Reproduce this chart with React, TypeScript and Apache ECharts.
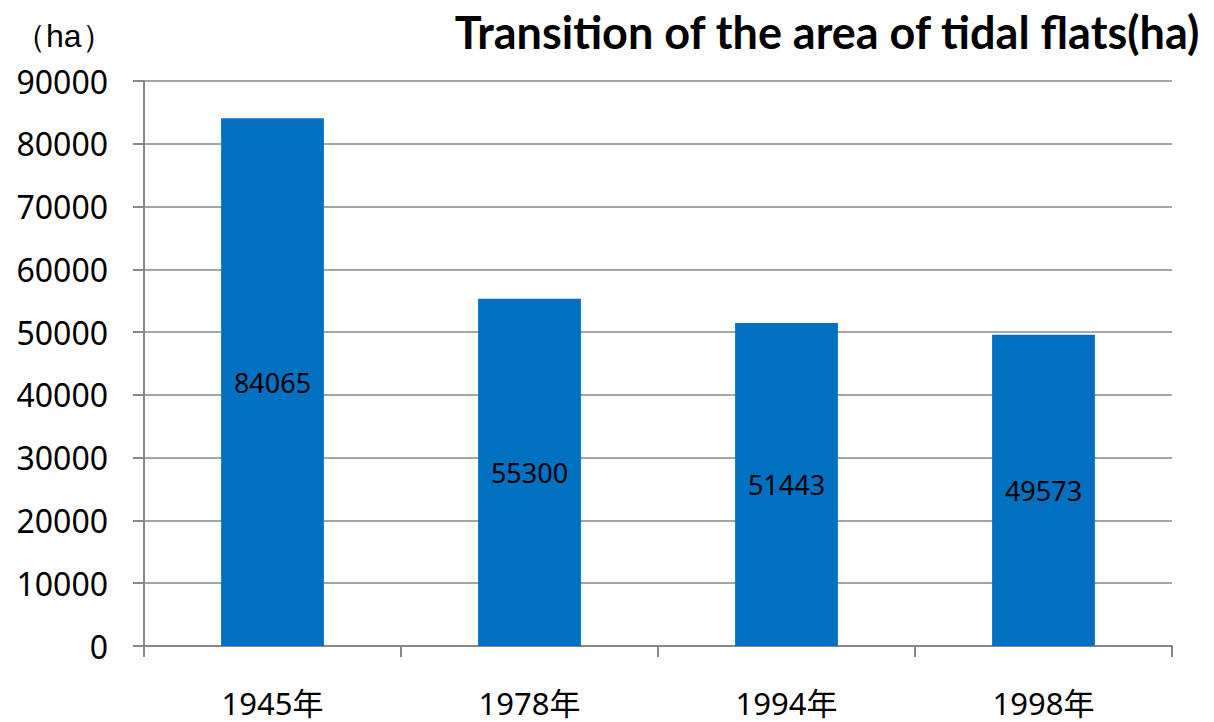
import React, { useEffect, useRef } from "react";
import * as echarts from "echarts";

const categories = ["1945年", "1978年", "1994年", "1998年"];
const values = [84065, 55300, 51443, 49573];
const yTicks = { min: 0, max: 90000, interval: 10000 };
const titleText = "Transition of the area of tidal flats(ha)";
const unitText = "（ha）";

const FONT = "'Noto Sans', 'Noto Sans CJK JP', sans-serif";

export default function App() {
  const ref = useRef<HTMLDivElement>(null);
  useEffect(() => {
    if (!ref.current) return;
    const chart = echarts.init(ref.current, undefined, { renderer: "svg" });
    chart.setOption({
      animation: false,
      backgroundColor: "#ffffff",
      title: {
        text: titleText,
        right: 8,
        top: 4,
        textStyle: {
          fontFamily: "Lato, 'Noto Sans', sans-serif",
          fontWeight: "bold",
          fontSize: 45,
          color: "#000",
        },
      },
      graphic: [
        {
          type: "text",
          left: 14,
          top: 20,
          style: {
            text: unitText,
            font: "32px 'Noto Sans CJK JP', sans-serif",
            fontSize: 32,
            fill: "#000",
          },
        },
      ],
      grid: { left: 144, right: 42, top: 81, bottom: 76, containLabel: false },
      xAxis: {
        type: "category",
        data: categories,
        axisLine: { show: true, lineStyle: { color: "#888888", width: 2 } },
        axisTick: { show: true, length: 11, lineStyle: { color: "#888888", width: 2 } },
        axisLabel: {
          margin: 41,
          fontFamily: FONT,
          fontSize: 31,
          color: "#000",
        },
      },
      yAxis: {
        type: "value",
        min: yTicks.min,
        max: yTicks.max,
        interval: yTicks.interval,
        axisLine: { show: true, lineStyle: { color: "#888888", width: 2 } },
        axisTick: { show: true, length: 11, lineStyle: { color: "#888888", width: 2 } },
        splitLine: { show: true, lineStyle: { color: "#888888", width: 1.5 } },
        axisLabel: {
          margin: 36,
          fontFamily: FONT,
          fontSize: 32,
          color: "#000",
          formatter: (v: number) => String(v),
        },
      },
      series: [
        {
          type: "bar",
          data: values,
          barWidth: "40%",
          itemStyle: { color: "#0070C0" },
          label: {
            show: true,
            position: "inside",
            fontFamily: FONT,
            fontSize: 27,
            color: "#000",
          },
        },
      ],
    });
    return () => chart.dispose();
  }, []);
  return (
    <div
      ref={ref}
      style={{ position: "fixed", left: 0, top: 0, width: 1214, height: 722 }}
    />
  );
}
